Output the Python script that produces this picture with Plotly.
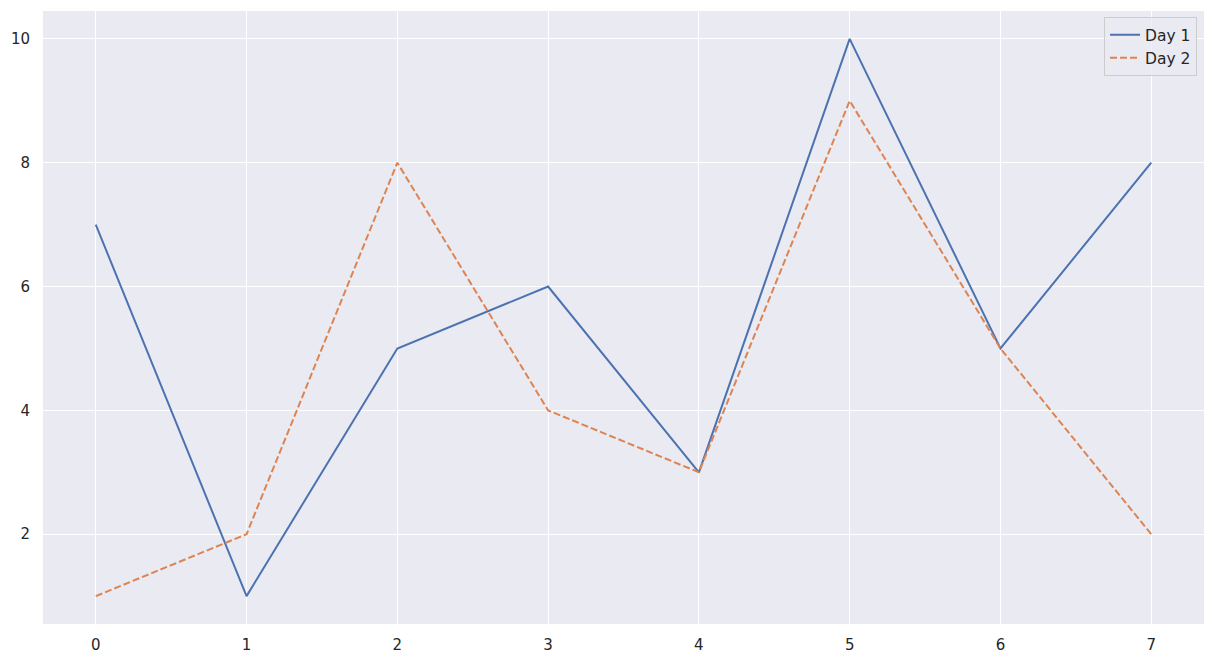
import plotly.graph_objects as go

x_vals = [0, 1, 2, 3, 4, 5, 6, 7]
day1 = [7, 1, 5, 6, 3, 10, 5, 8]
day2 = [1, 2, 8, 4, 3, 9, 5, 2]
x_ticks = [0, 1, 2, 3, 4, 5, 6, 7]
y_ticks = [2, 4, 6, 8, 10]

fig = go.Figure()
fig.add_trace(go.Scatter(x=x_vals, y=day1, mode="lines", name="Day 1",
                         line=dict(color="#4C72B0", width=2)))
fig.add_trace(go.Scatter(x=x_vals, y=day2, mode="lines", name="Day 2",
                         line=dict(color="#DD8452", width=2, dash="7px,3px")))

# page body has an 8px default margin, so figure is shrunk to fit
fig.update_layout(
    width=1206, height=656,
    margin=dict(l=35, r=10, t=3, b=40, autoexpand=False),
    paper_bgcolor="white",
    plot_bgcolor="#EAEAF2",
    font=dict(family="DejaVu Sans", size=15, color="#262626"),
    showlegend=True,
    legend=dict(x=0.994, y=0.99, xanchor="right", yanchor="top",
                bgcolor="rgba(234,234,242,0.8)", bordercolor="#CCCCCC", borderwidth=1,
                font=dict(size=15.5, color="#262626"), tracegroupgap=0),
)
fig.update_xaxes(range=[-0.35, 7.35], tickvals=x_ticks, showgrid=True, gridcolor="white",
                 gridwidth=1.2, zeroline=False, showline=False, ticks="", ticklabelstandoff=10,
                 automargin=False)
fig.update_yaxes(range=[0.55, 10.45], tickvals=y_ticks, showgrid=True, gridcolor="white",
                 gridwidth=1.2, zeroline=False, showline=False, ticks="", ticklabelstandoff=12,
                 automargin=False)

fig.write_html("out.html")
